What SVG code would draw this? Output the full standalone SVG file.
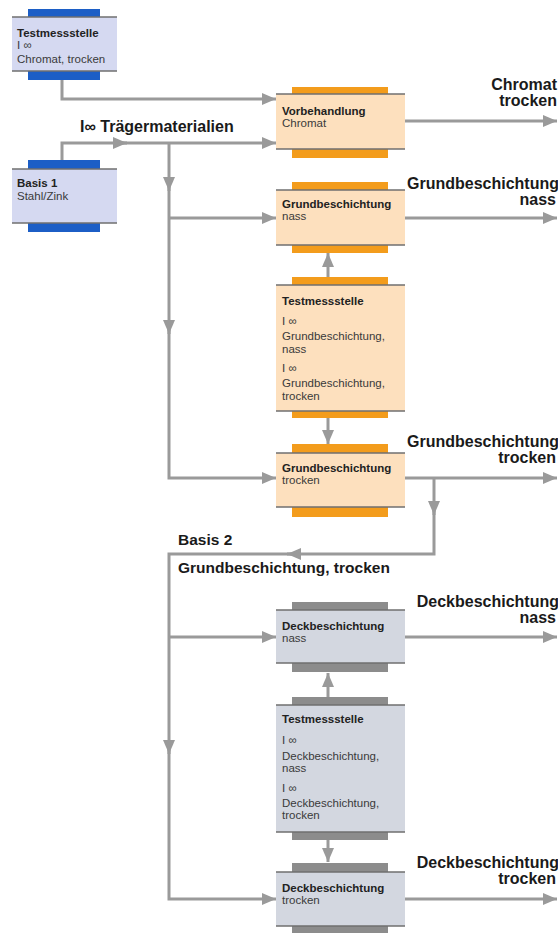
<svg xmlns="http://www.w3.org/2000/svg" width="558" height="933" viewBox="0 0 558 933">
<style>
.bg{fill:#ffffff}
.o .box{fill:#fde0be}
.o .bar{fill:#f39c1c}
.b .box{fill:#d5d9f1}
.b .bar{fill:#1c5ec6}
.g .box{fill:#d3d7e0}
.g .bar{fill:#8c8c8c}
.edge{stroke:#6f6f6f;stroke-width:1.5}
.t{font-family:"Liberation Sans",Arial,sans-serif;font-size:11.5px;fill:#3a3a3a}
.tb{font-family:"Liberation Sans",Arial,sans-serif;font-size:11.5px;font-weight:bold;fill:#222}
.lbl{font-family:"Liberation Sans",Arial,sans-serif;font-size:16px;font-weight:bold;fill:#1a1a1a}
.lbl2{font-family:"Liberation Sans",Arial,sans-serif;font-size:15.5px;font-weight:bold;fill:#1a1a1a}
.c{fill:none;stroke:#9a9a9a;stroke-width:3}
</style>
<defs>
<marker id="ah" markerUnits="userSpaceOnUse" markerWidth="14" markerHeight="12" refX="14" refY="6" orient="auto">
<path d="M0,0 L14,6 L0,12 z" fill="#9a9a9a"/>
</marker>
</defs>
<rect class="bg" x="0" y="0" width="558" height="933"/>

<g id="connectors">
<path class="c" d="M62,80 V99 H276" marker-end="url(#ah)"/>
<path class="c" d="M62,160 V143 H127" marker-end="url(#ah)"/>
<path class="c" d="M120,143 H276" marker-end="url(#ah)"/>
<path class="c" d="M169,143 V191" marker-end="url(#ah)"/>
<path class="c" d="M169,185 V334" marker-end="url(#ah)"/>
<path class="c" d="M169,328 V478 H276" marker-end="url(#ah)"/>
<path class="c" d="M169,218 H276" marker-end="url(#ah)"/>
<path class="c" d="M405,121 H557" marker-end="url(#ah)"/>
<path class="c" d="M405,218 H557" marker-end="url(#ah)"/>
<path class="c" d="M328,278 V253" marker-end="url(#ah)"/>
<path class="c" d="M328,418 V444" marker-end="url(#ah)"/>
<path class="c" d="M405,478 H557" marker-end="url(#ah)"/>
<path class="c" d="M434,478 V515" marker-end="url(#ah)"/>
<path class="c" d="M434,509 V554 H287" marker-end="url(#ah)"/>
<path class="c" d="M293,554 H169 V754" marker-end="url(#ah)"/>
<path class="c" d="M169,748 V899 H276" marker-end="url(#ah)"/>
<path class="c" d="M169,637 H276" marker-end="url(#ah)"/>
<path class="c" d="M405,637 H557" marker-end="url(#ah)"/>
<path class="c" d="M328,697 V673" marker-end="url(#ah)"/>
<path class="c" d="M328,840 V862" marker-end="url(#ah)"/>
<path class="c" d="M405,899 H557" marker-end="url(#ah)"/>
</g>

<g id="labels">
<text class="lbl" x="80" y="132">I∞ Trägermaterialien</text>
<text class="lbl" x="557" y="90" text-anchor="end">Chromat</text>
<text class="lbl" x="557" y="106" text-anchor="end">trocken</text>
<text class="lbl" x="559" y="189" text-anchor="end">Grundbeschichtung</text>
<text class="lbl" x="556" y="205" text-anchor="end">nass</text>
<text class="lbl" x="559" y="447" text-anchor="end">Grundbeschichtung</text>
<text class="lbl" x="556" y="463" text-anchor="end">trocken</text>
<text class="lbl2" x="178" y="545">Basis 2</text>
<text class="lbl2" x="178" y="573">Grundbeschichtung, trocken</text>
<text class="lbl" x="559" y="607" text-anchor="end">Deckbeschichtung</text>
<text class="lbl" x="556" y="623" text-anchor="end">nass</text>
<text class="lbl" x="559" y="868" text-anchor="end">Deckbeschichtung</text>
<text class="lbl" x="556" y="884" text-anchor="end">trocken</text>
</g>

<g id="test1" class="b">
<rect class="bar" x="28" y="9" width="72" height="8"/>
<rect class="box" x="12" y="17" width="105" height="54"/>
<rect class="bar" x="28" y="71" width="72" height="9"/>
<line class="edge" x1="12" y1="17" x2="117" y2="17"/>
<line class="edge" x1="12" y1="71" x2="117" y2="71"/>
<text class="tb" x="17" y="37">Testmessstelle</text>
<text class="t" x="17" y="49">I ∞</text>
<text class="t" x="17" y="63">Chromat, trocken</text>
</g>

<g id="basis1" class="b">
<rect class="bar" x="28" y="160" width="72" height="9"/>
<rect class="box" x="12" y="169" width="105" height="54"/>
<rect class="bar" x="28" y="223" width="72" height="9"/>
<line class="edge" x1="12" y1="169" x2="117" y2="169"/>
<line class="edge" x1="12" y1="223" x2="117" y2="223"/>
<text class="tb" x="17" y="187">Basis 1</text>
<text class="t" x="17" y="200">Stahl/Zink</text>
</g>

<g id="vorbehandlung" class="o">
<rect class="bar" x="292" y="87" width="96" height="7"/>
<rect class="box" x="276" y="94" width="129" height="55"/>
<rect class="bar" x="292" y="149" width="96" height="9"/>
<line class="edge" x1="276" y1="94" x2="405" y2="94"/>
<line class="edge" x1="276" y1="149" x2="405" y2="149"/>
<text class="tb" x="282" y="115">Vorbehandlung</text>
<text class="t" x="282" y="127">Chromat</text>
</g>

<g id="grund-nass" class="o">
<rect class="bar" x="292" y="182" width="96" height="8"/>
<rect class="box" x="276" y="190" width="129" height="55"/>
<rect class="bar" x="292" y="245" width="96" height="8"/>
<line class="edge" x1="276" y1="190" x2="405" y2="190"/>
<line class="edge" x1="276" y1="245" x2="405" y2="245"/>
<text class="tb" x="282" y="208">Grundbeschichtung</text>
<text class="t" x="282" y="220">nass</text>
</g>

<g id="test2" class="o">
<rect class="bar" x="292" y="277" width="96" height="8"/>
<rect class="box" x="276" y="285" width="129" height="126"/>
<rect class="bar" x="292" y="411" width="96" height="7"/>
<line class="edge" x1="276" y1="285" x2="405" y2="285"/>
<line class="edge" x1="276" y1="411" x2="405" y2="411"/>
<text class="tb" x="282" y="305">Testmessstelle</text>
<text class="t" x="282" y="325">I ∞</text>
<text class="t" x="282" y="340">Grundbeschichtung,</text>
<text class="t" x="282" y="353">nass</text>
<text class="t" x="282" y="372">I ∞</text>
<text class="t" x="282" y="387">Grundbeschichtung,</text>
<text class="t" x="282" y="400">trocken</text>
</g>

<g id="grund-trocken" class="o">
<rect class="bar" x="292" y="444" width="96" height="9"/>
<rect class="box" x="276" y="453" width="129" height="54"/>
<rect class="bar" x="292" y="507" width="96" height="10"/>
<line class="edge" x1="276" y1="453" x2="405" y2="453"/>
<line class="edge" x1="276" y1="507" x2="405" y2="507"/>
<text class="tb" x="282" y="472">Grundbeschichtung</text>
<text class="t" x="282" y="484">trocken</text>
</g>

<g id="deck-nass" class="g">
<rect class="bar" x="292" y="602" width="96" height="8"/>
<rect class="box" x="276" y="610" width="129" height="53"/>
<rect class="bar" x="292" y="663" width="96" height="9"/>
<line class="edge" x1="276" y1="610" x2="405" y2="610"/>
<line class="edge" x1="276" y1="663" x2="405" y2="663"/>
<text class="tb" x="282" y="630">Deckbeschichtung</text>
<text class="t" x="282" y="642">nass</text>
</g>

<g id="test3" class="g">
<rect class="bar" x="292" y="697" width="96" height="8"/>
<rect class="box" x="276" y="705" width="129" height="127"/>
<rect class="bar" x="292" y="832" width="96" height="8"/>
<line class="edge" x1="276" y1="705" x2="405" y2="705"/>
<line class="edge" x1="276" y1="832" x2="405" y2="832"/>
<text class="tb" x="282" y="723">Testmessstelle</text>
<text class="t" x="282" y="744">I ∞</text>
<text class="t" x="282" y="760">Deckbeschichtung,</text>
<text class="t" x="282" y="772">nass</text>
<text class="t" x="282" y="792">I ∞</text>
<text class="t" x="282" y="807">Deckbeschichtung,</text>
<text class="t" x="282" y="819">trocken</text>
</g>

<g id="deck-trocken" class="g">
<rect class="bar" x="292" y="863" width="96" height="9"/>
<rect class="box" x="276" y="872" width="129" height="54"/>
<rect class="bar" x="292" y="926" width="96" height="7"/>
<line class="edge" x1="276" y1="872" x2="405" y2="872"/>
<line class="edge" x1="276" y1="926" x2="405" y2="926"/>
<text class="tb" x="282" y="892">Deckbeschichtung</text>
<text class="t" x="282" y="904">trocken</text>
</g>
</svg>
